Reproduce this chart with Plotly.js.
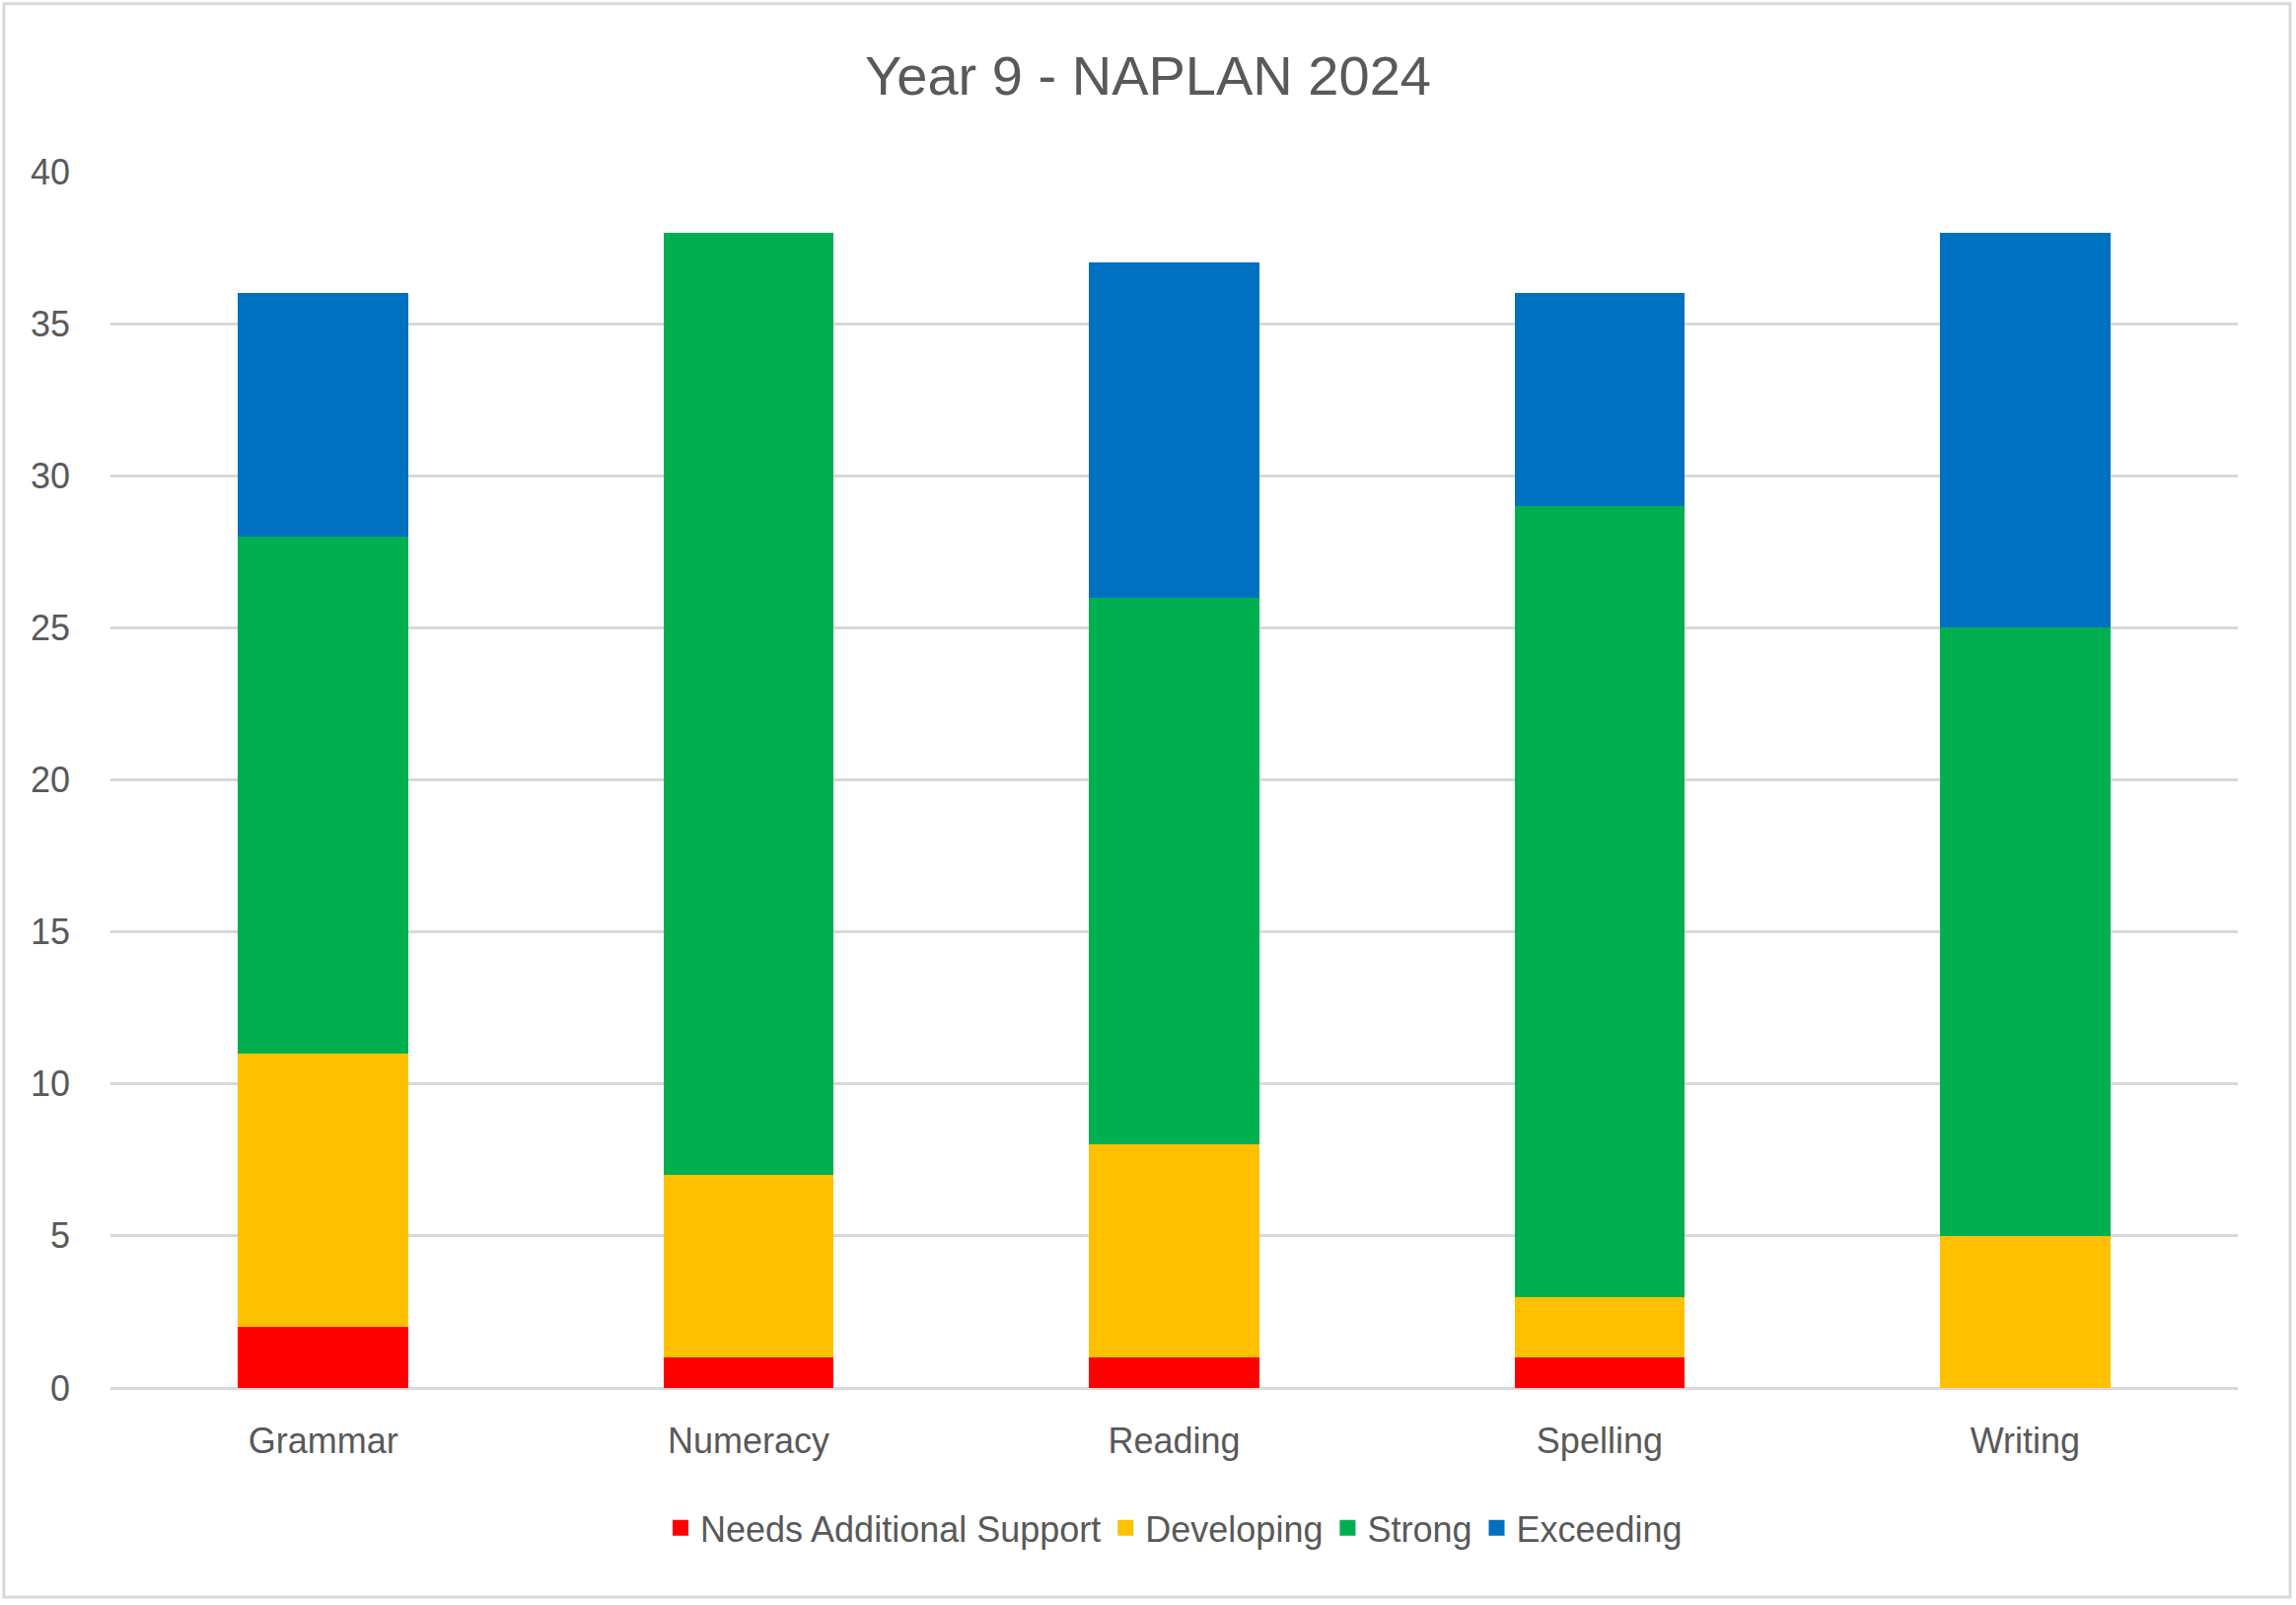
<!DOCTYPE html>
<html>
<head>
<meta charset="utf-8">
<script src="https://cdn.plot.ly/plotly-3.0.1.min.js"></script>
<style>html,body{margin:0;padding:0;background:#fff;}#chart{width:2328px;height:1627px;}</style>
</head>
<body>
<div id="chart"></div>
<script>
const categories = ["Grammar", "Numeracy", "Reading", "Spelling", "Writing"];
const needsSupport = [2, 1, 1, 1, 0];
const developing = [9, 6, 7, 2, 5];
const strong = [17, 31, 18, 26, 20];
const exceeding = [8, 0, 11, 7, 13];
const yTicks = [0, 5, 10, 15, 20, 25, 30, 35, 40];
const seriesNames = ['Needs Additional Support', 'Developing', 'Strong', 'Exceeding'];
const seriesColors = ['#FF0000', '#FFC000', '#00B050', '#0070C0'];

const FONT = '"Liberation Sans Narrow", "Liberation Sans", Arial, sans-serif';
const TXT = '#595959';

const values = [needsSupport, developing, strong, exceeding];
const data = [];
values.forEach((vals, i) => {
  data.push({type: 'bar', name: seriesNames[i], x: categories, y: vals, showlegend: false,
             legendgroup: seriesNames[i], marker: {color: seriesColors[i], line: {width: 0}}});
});
// legend entries with larger square keys
values.forEach((vals, i) => {
  data.push({type: 'scatter', mode: 'markers', name: seriesNames[i], x: [null], y: [null],
             legendgroup: seriesNames[i], showlegend: true,
             marker: {symbol: 'square', size: 22, color: seriesColors[i]}});
});

const layout = {
  width: 2328, height: 1627,
  barmode: 'stack', bargap: 0.6,
  paper_bgcolor: '#fff', plot_bgcolor: '#fff',
  margin: {l: 112, r: 59, t: 174, b: 220},
  font: {family: FONT, color: TXT, size: 36},
  title: {text: 'Year 9 - NAPLAN 2024', x: 0.5, xanchor: 'center', y: 0.953, yanchor: 'middle',
          font: {family: FONT, size: 56, color: TXT}},
  xaxis: {type: 'category', showgrid: false, showline: false, zeroline: false,
          ticks: '', tickfont: {size: 36, color: TXT}, ticklabelstandoff: 29, fixedrange: true},
  yaxis: {range: [0, 40], tickvals: yTicks, showgrid: true, gridcolor: '#D9D9D9', gridwidth: 3,
          zeroline: true, zerolinecolor: '#D9D9D9', zerolinewidth: 3, showline: false,
          ticks: '', tickfont: {size: 36, color: TXT}, ticklabelstandoff: 40, fixedrange: true},
  legend: {orientation: 'h', x: 0.5, xanchor: 'center', y: -0.115, yanchor: 'middle',
           font: {size: 36, color: TXT}, traceorder: 'normal', itemwidth: 30,
           bgcolor: 'rgba(0,0,0,0)'},
  shapes: [{type: 'rect', xref: 'paper', yref: 'paper', x0: -0.0501, x1: 1.0246, y0: -0.172, y1: 1.138,
            line: {color: '#D9D9D9', width: 3}, fillcolor: 'rgba(0,0,0,0)', layer: 'below'}],
  showlegend: true
};
Plotly.newPlot('chart', data, layout, {staticPlot: true, displayModeBar: false});
</script>
</body>
</html>
